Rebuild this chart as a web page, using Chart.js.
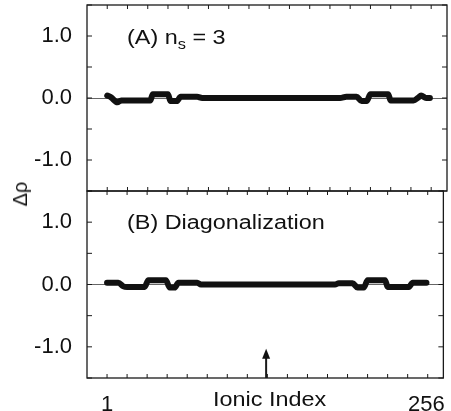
<!DOCTYPE html>
<html>
<head>
<meta charset="utf-8">
<script src="https://cdn.jsdelivr.net/npm/chart.js@4.4.1/dist/chart.umd.min.js"></script>
<style>
  body { margin: 0; background: #fff; }
  #wrap { position: relative; width: 451px; height: 411px; overflow: hidden;
          font-family: 'Liberation Sans', Arial, sans-serif; color: #111; }
  canvas { position: absolute; left: 0; top: 0; }
  .note { position: absolute; font-size: 20px; line-height: 1; white-space: nowrap;
          transform-origin: left center; transform: scaleX(1.17); }
  .sub { font-size: 14px; position: relative; top: 5px; }
</style>
</head>
<body>
<div id="wrap">
  <canvas id="panelA" width="451" height="411"></canvas>
  <canvas id="panelB" width="451" height="411"></canvas>
  <div class="note" style="left:127px; top:27px;">(A) n<span class="sub">s</span> = 3</div>
  <div class="note" style="left:127px; top:212px;">(B) Diagonalization</div>
  <div class="note" style="left:213px; top:389px;">Ionic Index</div>
  <div class="note" style="left:20px; top:194px; transform-origin:center; transform: translate(-50%,-50%) rotate(-90deg);">Δρ</div>
</div>
<script>
// Panel A: n_s = 3 (vertices of the density-deviation curve)
const idxA = [1, 4, 9, 12, 35, 37, 49, 51, 56, 59, 72, 76, 185, 190, 198, 202, 206, 209, 223, 225, 243, 247, 249, 253, 256];
const rhoA = [0.04, 0.01, -0.07, -0.04, -0.04, 0.06, 0.06, -0.05, -0.05, 0.02, 0.02, 0.0, 0.0, 0.02, 0.02, -0.05, -0.05, 0.06, 0.06, -0.04, -0.04, 0.01, 0.04, 0.0, 0.0];

// Panel B: diagonalization
const idxB = [1, 10, 14, 17, 31, 34, 48, 51, 55, 58, 73, 76, 183, 186, 197, 201, 206, 209, 223, 225, 242, 245, 256];
const rhoB = [0.03, 0.03, -0.03, -0.04, -0.04, 0.07, 0.07, -0.05, -0.05, 0.03, 0.03, 0.0, 0.0, 0.02, 0.02, -0.05, -0.05, 0.07, 0.07, -0.04, -0.04, 0.03, 0.03];

// axes
const yTickLabels = [1, 0, -1];
const yTickMarks = [-1.5, -1, -0.5, 0, 0.5, 1, 1.5];
const xTickLabels = [1, 256];
const xTickMarks = [1, 17, 33, 49, 65, 81, 97, 113, 129, 145, 161, 177, 193, 209, 225, 241, 257];
const arrowAt = 128;

Chart.defaults.font.family = "'Liberation Sans', Arial, sans-serif";
Chart.defaults.color = '#111';

// box, inward ticks and the arrow
const framePlugin = {
    id: 'frame',
    afterDatasetsDraw(chart, args, opts) {
        const ctx = chart.ctx;
        const a = chart.chartArea;
        const x = chart.scales.x, y = chart.scales.y;
        ctx.save();
        ctx.strokeStyle = '#1a1a1a';
        ctx.lineWidth = 1.3;
        ctx.strokeRect(a.left, a.top, a.right - a.left, a.bottom - a.top);
        ctx.lineWidth = 1;
        ctx.beginPath();
        xTickMarks.forEach(v => {
            const px = x.getPixelForValue(v);
            ctx.moveTo(px, a.bottom); ctx.lineTo(px, a.bottom - 4);
            ctx.moveTo(px, a.top); ctx.lineTo(px, a.top + 4);
        });
        yTickMarks.forEach(v => {
            const py = y.getPixelForValue(v);
            ctx.moveTo(a.left, py); ctx.lineTo(a.left + 5, py);
            ctx.moveTo(a.right, py); ctx.lineTo(a.right - 5, py);
        });
        ctx.stroke();

        if (opts.arrow) {
            const px = x.getPixelForValue(arrowAt);
            const tip = y.getPixelForValue(-1.03);
            ctx.fillStyle = '#111';
            ctx.lineWidth = 2;
            ctx.beginPath();
            ctx.moveTo(px, a.bottom);
            ctx.lineTo(px, tip + 8);
            ctx.stroke();
            ctx.beginPath();
            ctx.moveTo(px, tip);
            ctx.lineTo(px - 4, tip + 10);
            ctx.lineTo(px + 4, tip + 10);
            ctx.closePath();
            ctx.fill();
        }
        ctx.restore();
    }
};

function makePanel(id, xs, ys, bottom) {
    return new Chart(document.getElementById(id), {
        type: 'line',
        data: {
            datasets: [{
                data: xs.map((v, i) => ({ x: v, y: ys[i] })),
                borderColor: '#111',
                borderWidth: 6,
                borderCapStyle: 'round',
                borderJoinStyle: 'round',
                cubicInterpolationMode: 'monotone',
                pointRadius: 0
            }]
        },
        options: {
            responsive: false,
            animation: false,
            events: [],
            layout: {
                padding: bottom ? { top: 191, right: 4, bottom: 0, left: 0 }
                                : { top: 5, right: 4, bottom: 220, left: 0 }
            },
            plugins: {
                legend: { display: false },
                tooltip: { enabled: false },
                frame: { arrow: bottom }
            },
            scales: {
                x: {
                    type: 'linear',
                    min: -15,
                    max: 269.5,
                    display: bottom,
                    grid: { display: false },
                    border: { display: false },
                    afterBuildTicks: scale => { scale.ticks = xTickLabels.map(v => ({ value: v })); },
                    afterFit: scale => { if (bottom) scale.height = 33; },
                    ticks: {
                        autoSkip: false,
                        maxRotation: 0,
                        padding: 6,
                        font: { size: 22 },
                        callback: v => String(v)
                    }
                },
                y: {
                    min: -1.5,
                    max: 1.5,
                    afterBuildTicks: scale => { scale.ticks = yTickLabels.map(v => ({ value: v })); },
                    afterFit: scale => {
                        scale.width = 87;
                        scale.paddingTop = 0;
                        scale.paddingBottom = 0;
                    },
                    border: { display: false },
                    grid: {
                        drawTicks: false,
                        lineWidth: 1,
                        color: c => (c.tick && c.tick.value === 0) ? '#666' : 'rgba(0,0,0,0)'
                    },
                    ticks: {
                        padding: 15,
                        font: { size: 22 },
                        callback: v => v.toFixed(1)
                    }
                }
            }
        },
        plugins: [framePlugin]
    });
}

makePanel('panelA', idxA, rhoA, false);
makePanel('panelB', idxB, rhoB, true);
</script>
</body>
</html>
